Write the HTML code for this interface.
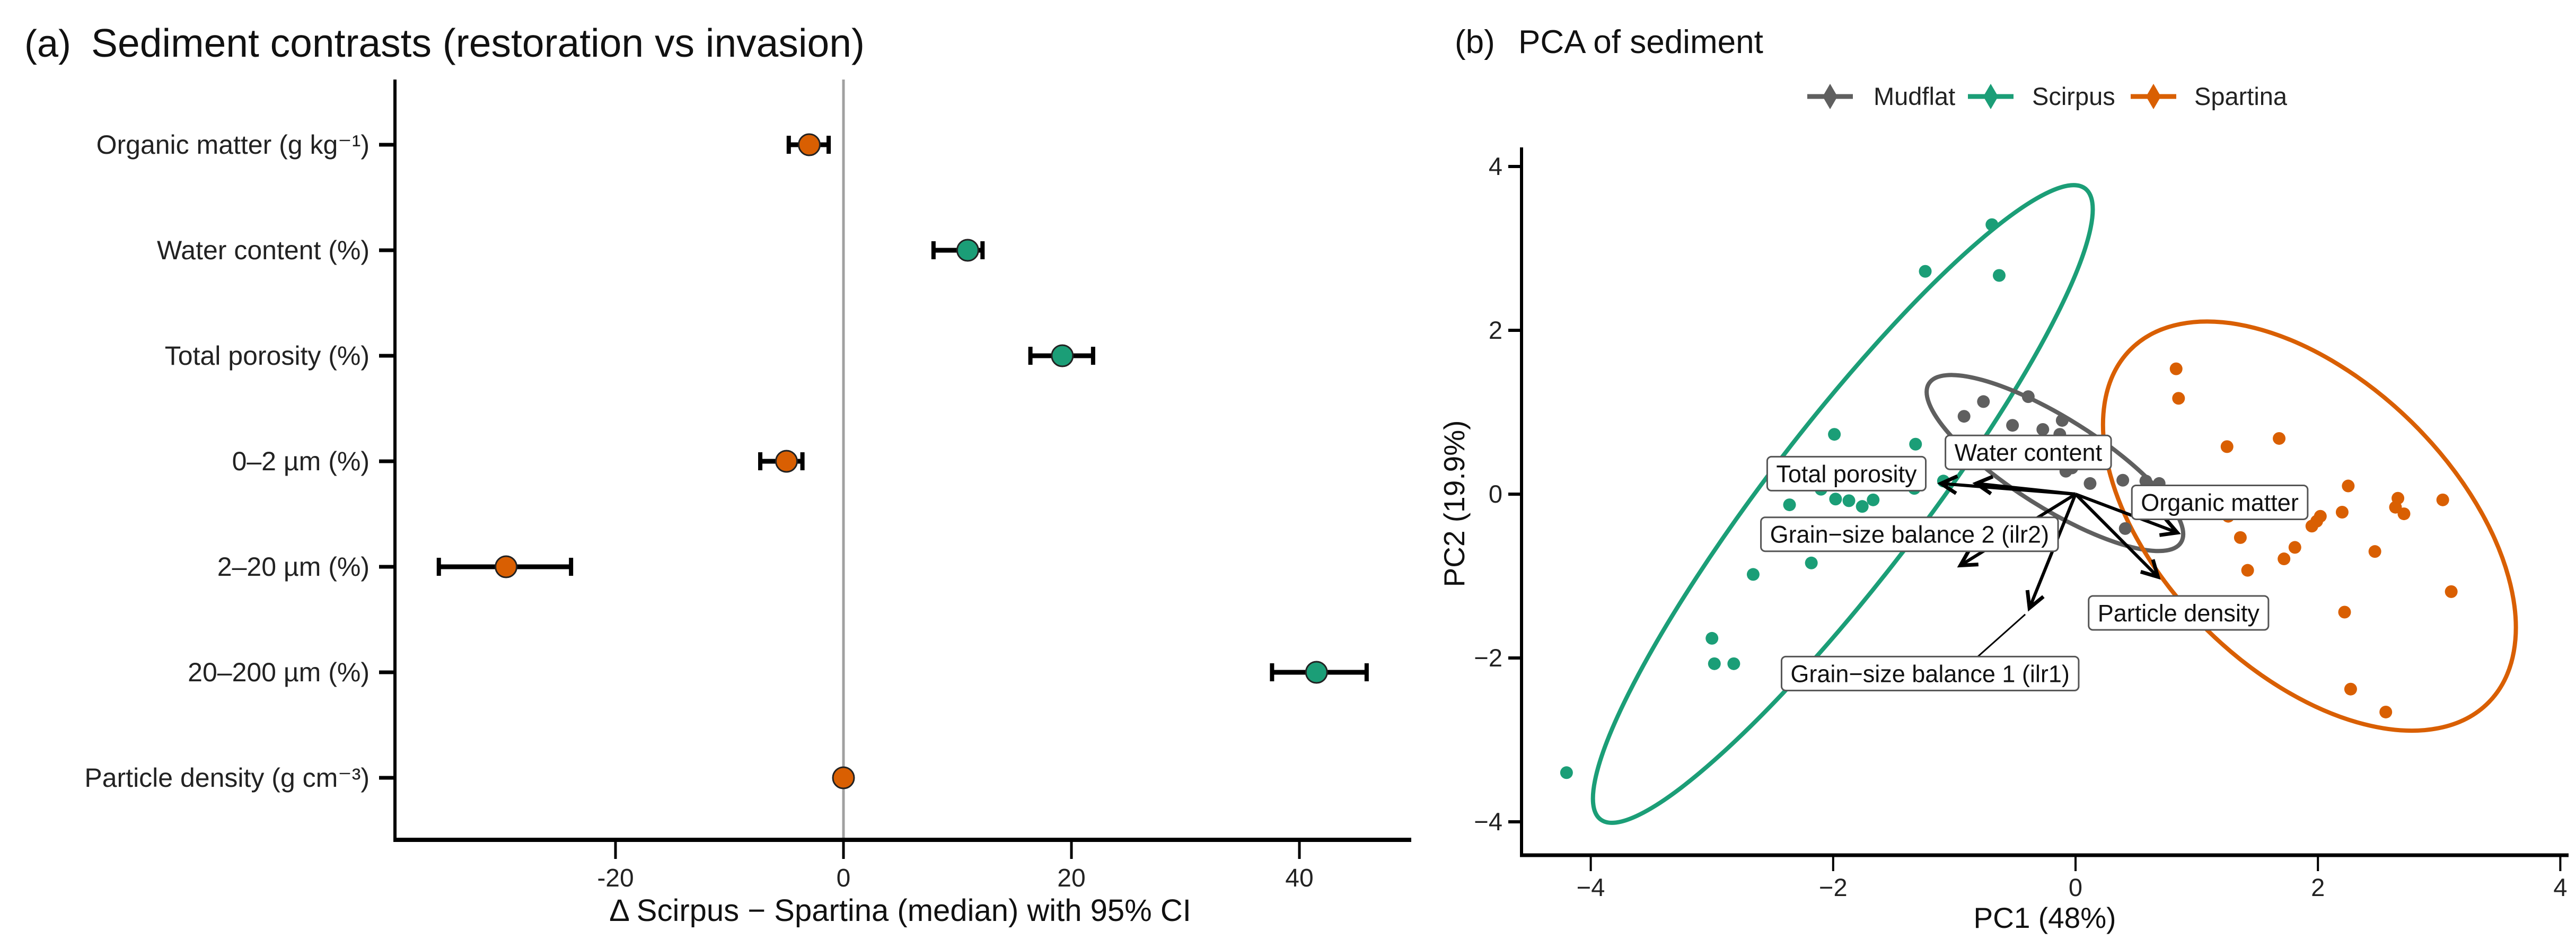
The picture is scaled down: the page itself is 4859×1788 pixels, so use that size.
<!DOCTYPE html>
<html><head><meta charset="utf-8"><style>
html,body{margin:0;padding:0;background:#fff}
svg{display:block;font-family:"Liberation Sans",Arial,sans-serif}
</style></head><body>
<svg id="fig" width="4859" height="1788" viewBox="0 0 4859 1788" xmlns="http://www.w3.org/2000/svg">
<g id="pa"></g>
<g id="pb"></g>
</svg>
<script>
// ---- Panel (a) data ----
const aCats = ["Organic matter (g kg\u207B\u00B9)","Water content (%)","Total porosity (%)","0\u20132 \u00B5m (%)","2\u201320 \u00B5m (%)","20\u2013200 \u00B5m (%)","Particle density (g cm\u207B\u00B3)"];
const aMed = [-3.0, 10.9, 19.2, -5.0, -29.6, 41.5, 0.0];
const aLo = [-4.8, 7.9, 16.4, -7.3, -35.5, 37.6, -0.1];
const aHi = [-1.3, 12.2, 21.9, -3.6, -23.9, 45.9, 0.1];
const aGroup = ["Spartina","Scirpus","Scirpus","Spartina","Spartina","Scirpus","Spartina"];
const aTicks = [-20, 0, 20, 40];
const aTickLabels = ["-20","0","20","40"];
// ---- Panel (b) data ----
const scirX = [-4.20,-3.00,-2.98,-2.82,-2.66,-2.18,-1.99,-2.36,-2.10,-1.98,-1.87,-1.76,-1.67,-1.32,-1.33,-1.09,-1.24,-0.69,-0.63];
const scirY = [-3.40,-1.76,-2.07,-2.07,-0.98,-0.84,0.73,-0.13,0.06,-0.06,-0.08,-0.15,-0.07,0.61,0.07,0.16,2.72,3.29,2.67];
const mudX = [-0.92,-0.76,-0.39,-0.52,-0.27,-0.11,-0.13,-0.08,-0.03,0.12,0.39,0.58,0.69,0.41,-0.30];
const mudY = [0.95,1.13,1.19,0.84,0.79,0.90,0.73,0.28,0.32,0.13,0.17,0.16,0.13,-0.42,0.45];
const spaX = [0.83,0.85,1.25,1.68,2.25,1.26,1.36,1.42,1.72,1.81,1.95,1.99,2.02,2.20,2.47,2.66,2.64,2.71,3.03,3.10,2.22,2.27,2.56];
const spaY = [1.53,1.17,0.58,0.68,0.10,-0.27,-0.53,-0.93,-0.79,-0.65,-0.39,-0.33,-0.27,-0.22,-0.70,-0.05,-0.16,-0.24,-0.07,-1.19,-1.44,-2.38,-2.66];
const ellGroups = ["Scirpus","Mudflat","Spartina"];
const ellCX = [-1.92,-0.17,1.93];
const ellCY = [-0.12,0.38,-0.39];
const ellEndX = [0.08,0.87,3.41];
const ellEndY = [3.73,-0.59,-2.54];
const ellMinorRatio = [0.193,0.30,0.58];
const loadNames = ["Total porosity","Water content","Grain\u2212size balance 2 (ilr2)","Grain\u2212size balance 1 (ilr1)","Particle density","Organic matter"];
const loadX = [-1.11,-0.82,-0.95,-0.38,0.68,0.84];
const loadY = [0.13,0.13,-0.87,-1.39,-1.01,-0.47];
const labX = [-1.89,-0.39,-1.37,-1.20,0.85,1.19];
const labY = [0.25,0.51,-0.49,-2.19,-1.45,-0.10];
const bTicks = [-4,-2,0,2,4];
const bTickLabels = ["\u22124","\u22122","0","2","4"];
const bYTickLabels = ["\u22124","\u22122","0","2","4"];

const COL = {Scirpus:"#1B9E77", Spartina:"#D95F02", Mudflat:"#5f5f5f"};
const NS = "http://www.w3.org/2000/svg";
function mk(parent, tag, attrs, text){
  const e = document.createElementNS(NS, tag);
  for (const k in attrs) e.setAttribute(k, attrs[k]);
  if (text !== undefined) e.textContent = text;
  parent.appendChild(e);
  return e;
}
// ---------- Panel A ----------
const pa = document.getElementById('pa');
const ax0 = 745, ax1 = 2662, ayTop = 150, ayBot = 1584;
const xA = v => 1591 + v * 21.5;
const yA = i => 273 + i * 199;
let t;
t = mk(pa,'text',{x:46,y:107,'font-size':72,fill:'#111'},'(a)');
 
t = mk(pa,'text',{x:172,y:107,'font-size':75,fill:'#111'},'Sediment contrasts (restoration vs invasion)');
 
t = mk(pa,'line',{x1:xA(0),x2:xA(0),y1:ayTop,y2:ayBot,stroke:'#a0a0a0','stroke-width':5});
 
t = mk(pa,'line',{x1:ax0,x2:ax0,y1:ayTop,y2:ayBot+3,stroke:'#000','stroke-width':6});
 
t = mk(pa,'line',{x1:ax0-3,x2:ax1,y1:ayBot,y2:ayBot,stroke:'#000','stroke-width':8});
 
aTicks.forEach((v,i)=>{
  const tk = mk(pa,'line',{x1:xA(v),x2:xA(v),y1:ayBot,y2:ayBot+36,stroke:'#000','stroke-width':5});
   
  const tl = mk(pa,'text',{x:xA(v),y:1672,'font-size':48,'text-anchor':'middle',fill:'#222'},aTickLabels[i]);
   
});
t = mk(pa,'text',{x:1698,y:1737,'font-size':58,'text-anchor':'middle',fill:'#111'},'\u0394 Scirpus \u2212 Spartina (median) with 95% CI');
 
aCats.forEach((c,i)=>{
  const y = yA(i);
  const tk = mk(pa,'line',{x1:715,x2:ax0,y1:y,y2:y,stroke:'#000','stroke-width':7});
   
  const tl = mk(pa,'text',{x:697,y:y+17,'font-size':50,'text-anchor':'end',fill:'#222'},c);
   
  const g = mk(pa,'g',{});
   
  const l = mk(g,'line',{x1:xA(aLo[i]),x2:xA(aHi[i]),y1:y,y2:y,stroke:'#000','stroke-width':9});
   
  [aLo[i],aHi[i]].forEach(v=>{
    const cp = mk(g,'line',{x1:xA(v),x2:xA(v),y1:y-17,y2:y+17,stroke:'#000','stroke-width':8});
     
  });
  const p = mk(g,'circle',{cx:xA(aMed[i]),cy:y,r:20,fill:COL[aGroup[i]],stroke:'#222','stroke-width':3});
   
});
// ---------- Panel B ----------
const pb = document.getElementById('pb');
const bx0 = 2870, bx1 = 4845, byTop = 278, byBot = 1613;
const xB = v => 3915 + v * 228.6;
const yB = v => 932 - v * 154.5;
t = mk(pb,'text',{x:2744,y:100,'font-size':62,fill:'#111'},'(b)');
 
t = mk(pb,'text',{x:2864,y:100,'font-size':62,fill:'#111'},'PCA of sediment');
 
// legend
const leg = [["Mudflat",3409,3534],["Scirpus",3712,3833],["Spartina",4019,4139]];
leg.forEach(L=>{
  const g = mk(pb,'g',{});
   
  const c = COL[L[0]];
  const ln = mk(g,'line',{x1:L[1],x2:L[1]+86,y1:182,y2:182,stroke:c,'stroke-width':9});
   
  const cx = L[1]+43;
  const d = mk(g,'polygon',{points:`${cx},${158} ${cx+14},${182} ${cx},${206} ${cx-14},${182}`,fill:c});
   
  const tx = mk(g,'text',{x:L[2],y:198,'font-size':47,fill:'#222'},L[0]);
   
});
// axes
t = mk(pb,'line',{x1:bx0,x2:bx0,y1:byTop,y2:byBot+3,stroke:'#000','stroke-width':6});
 
t = mk(pb,'line',{x1:bx0-3,x2:bx1,y1:byBot,y2:byBot,stroke:'#000','stroke-width':7});
 
bTicks.forEach((v,i)=>{
  const tk = mk(pb,'line',{x1:xB(v),x2:xB(v),y1:byBot,y2:byBot+30,stroke:'#000','stroke-width':4});
   
  const tl = mk(pb,'text',{x:xB(v),y:1690,'font-size':47,'text-anchor':'middle',fill:'#222'},bTickLabels[i]);
   
  const tk2 = mk(pb,'line',{x1:2845,x2:bx0,y1:yB(v),y2:yB(v),stroke:'#000','stroke-width':6});
   
  const tl2 = mk(pb,'text',{x:2834,y:yB(v)+16,'font-size':47,'text-anchor':'end',fill:'#222'},bYTickLabels[i]);
   
});
t = mk(pb,'text',{x:3857,y:1750,'font-size':55,'text-anchor':'middle',fill:'#111'},'PC1 (48%)');
 
t = mk(pb,'text',{x:0,y:0,'font-size':55,'text-anchor':'middle',fill:'#111',transform:'translate(2762,950) rotate(-90)'},'PC2 (19.9%)');
 
// ellipses
ellGroups.forEach((gname,i)=>{
  const cx = xB(ellCX[i]), cy = yB(ellCY[i]);
  const ex = xB(ellEndX[i]), ey = yB(ellEndY[i]);
  const a = Math.hypot(ex-cx, ey-cy);
  const ang = Math.atan2(ey-cy, ex-cx)*180/Math.PI;
  const e = mk(pb,'ellipse',{cx:cx,cy:cy,rx:a,ry:a*ellMinorRatio[i],transform:`rotate(${ang} ${cx} ${cy})`,fill:'none',stroke:COL[gname],'stroke-width':8});
   
});
// points
function pts(X,Y,g){
  X.forEach((x,i)=>{
    const c = mk(pb,'circle',{cx:xB(x),cy:yB(Y[i]),r:12,fill:COL[g]});
     
  });
}
pts(scirX,scirY,"Scirpus"); pts(mudX,mudY,"Mudflat"); pts(spaX,spaY,"Spartina");
// loading arrows
loadNames.forEach((n,i)=>{
  const x0 = xB(0), y0 = yB(0), x1 = xB(loadX[i]), y1 = yB(loadY[i]);
  const g = mk(pb,'g',{});
   
  const ln = mk(g,'line',{x1:x0,y1:y0,x2:x1,y2:y1,stroke:'#000','stroke-width':6});
   
  const th = Math.atan2(y1-y0,x1-x0), L = 34, sp = 0.5;
  const p1 = [x1 - L*Math.cos(th-sp), y1 - L*Math.sin(th-sp)];
  const p2 = [x1 - L*Math.cos(th+sp), y1 - L*Math.sin(th+sp)];
  const hd = mk(g,'polyline',{points:`${p1[0]},${p1[1]} ${x1},${y1} ${p2[0]},${p2[1]}`,fill:'none',stroke:'#000','stroke-width':7});
   
});
// loading labels
loadNames.forEach((n,i)=>{
  const cx = xB(labX[i]), cy = yB(labY[i]);
  const g = mk(pb,'g',{});
   
  if (i===3){
    const cl = mk(g,'line',{x1:xB(loadX[i])-8,y1:yB(loadY[i])+12,x2:cx+90,y2:cy-32,stroke:'#000','stroke-width':3});
     
  }
  const tx = mk(g,'text',{x:cx,y:cy+16,'font-size':45,'text-anchor':'middle',fill:'#111'},n);
   
  const w = tx.getComputedTextLength() + 34;
  const r = mk(g,'rect',{x:cx-w/2,y:cy-32,width:w,height:64,rx:8,fill:'#fff',stroke:'#555','stroke-width':3});
   
  g.insertBefore(r, tx);
});
</script>
</body></html>
